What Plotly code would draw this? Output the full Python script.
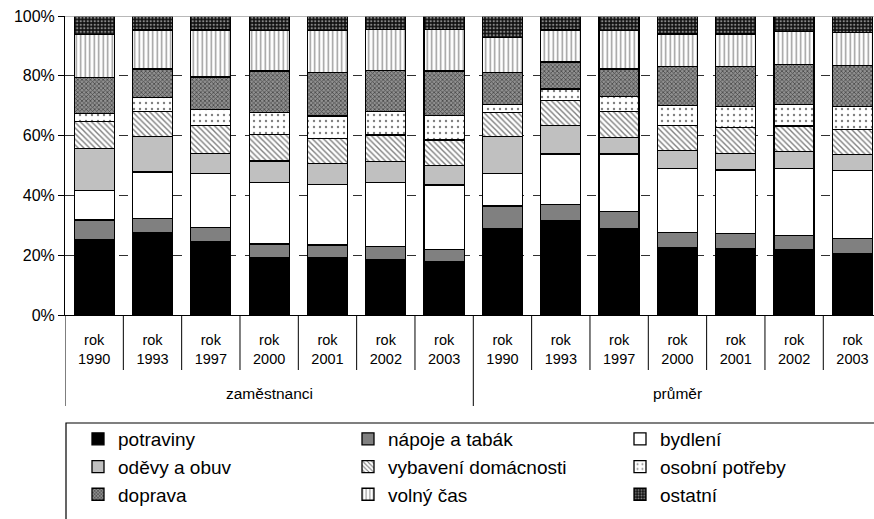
import plotly.graph_objects as go

groups = ["zaměstnanci", "průměr"]
years = ["1990", "1993", "1997", "2000", "2001", "2002", "2003"]
y_ticks = [0, 20, 40, 60, 80, 100]
y_tick_labels = ["0%", "20%", "40%", "60%", "80%", "100%"]

potraviny = [25.1, 27.5, 24.5, 19.2, 19.2, 18.6, 17.8, 29.0, 31.5, 29.0, 22.5, 22.3, 21.7, 20.6]
napoje = [6.7, 4.8, 4.7, 4.5, 4.2, 4.3, 4.2, 7.5, 5.5, 5.6, 5.1, 5.0, 4.9, 5.0]
bydleni = [9.9, 15.5, 18.2, 20.6, 20.3, 21.4, 21.5, 10.9, 16.8, 19.2, 21.5, 21.2, 22.5, 22.7]
odevy = [14.0, 11.8, 6.7, 7.2, 7.0, 7.0, 6.4, 12.2, 9.6, 5.6, 5.9, 5.6, 5.7, 5.4]
vybaveni = [9.0, 8.4, 9.2, 8.9, 8.4, 8.9, 8.6, 8.1, 8.3, 8.6, 8.4, 8.6, 8.4, 8.4]
osobni = [2.7, 4.7, 5.5, 7.3, 7.5, 7.8, 8.2, 2.6, 3.9, 5.0, 6.6, 7.0, 7.3, 7.6]
doprava = [12.0, 9.6, 10.8, 13.9, 14.4, 13.7, 14.9, 10.9, 9.0, 9.3, 13.1, 13.4, 13.3, 13.8]
volny_cas = [14.4, 13.0, 15.7, 13.5, 14.1, 13.8, 13.9, 11.6, 10.7, 12.8, 10.9, 10.9, 11.0, 11.1]
ostatni = [6.2, 4.7, 4.7, 4.9, 4.9, 4.5, 4.5, 7.2, 4.7, 4.9, 6.0, 6.0, 5.2, 5.4]

series_names = ["potraviny", "nápoje a tabák", "bydlení", "oděvy a obuv",
                "vybavení domácnosti", "osobní potřeby", "doprava", "volný čas", "ostatní"]
series_values = [potraviny, napoje, bydleni, odevy, vybaveni, osobni, doprava, volny_cas, ostatni]

FONT = "Liberation Sans, Arial, sans-serif"

styles = [
    dict(color="#000000"),
    dict(color="#808080"),
    dict(color="#ffffff"),
    dict(color="#c0c0c0"),
    dict(color="#ffffff", pattern=dict(shape="\\", fgcolor="#000000", bgcolor="#ffffff", size=4, solidity=0.35)),
    dict(color="#ffffff", pattern=dict(shape=".", fgcolor="#000000", bgcolor="#ffffff", size=6, solidity=0.12)),
    dict(color="#808080", pattern=dict(shape="x", fgcolor="#000000", bgcolor="#909090", size=3, solidity=0.45)),
    dict(color="#ffffff", pattern=dict(shape="|", fgcolor="#303030", bgcolor="#ffffff", size=4.5, solidity=0.32)),
    dict(color="#202020", pattern=dict(shape=".", fgcolor="#ffffff", bgcolor="#101010", size=3.5, solidity=0.35)),
]

n_years = len(years)
xpos = [g * n_years + j for g in range(len(groups)) for j in range(n_years)]
ticktext = ["rok<br>" + y for _ in groups for y in years]

legend_of = ["legend", "legend2", "legend3"]

fig = go.Figure()
for i, (name, vals) in enumerate(zip(series_names, series_values)):
    st = styles[i]
    marker = dict(color=st["color"], line=dict(color="#000000", width=1.3))
    if "pattern" in st:
        marker["pattern"] = st["pattern"]
    fig.add_trace(go.Bar(
        x=xpos, y=vals, name=name, marker=marker,
        legend=legend_of[i % 3],
    ))

W, H = 874, 519
L, R, T, B = 65, 0, 16, 204
pw = W - L - R
ph = H - T - B
unit = 58.33
xmax = -0.5 + pw / unit

def py(p):
    return (H - B - p) / ph

def px(p):
    return (p - L) / pw

shapes = []
# short separators between categories
for k in range(len(xpos) - 1):
    if (k + 1) % n_years == 0:
        continue
    shapes.append(dict(type="line", xref="x", yref="paper", x0=k + 0.5, x1=k + 0.5,
                       y0=0, y1=py(370), line=dict(color="#000000", width=1)))
# group dividers
for g in range(len(groups) + 1):
    xb = g * n_years - 0.5
    shapes.append(dict(type="line", xref="x", yref="paper", x0=xb, x1=xb,
                       y0=0, y1=py(406), line=dict(color="#000000", width=1)))
# top 100% line
shapes.append(dict(type="line", xref="paper", yref="y", x0=0, x1=1, y0=100, y1=100,
                   line=dict(color="#a0a0a0", width=1.5), layer="above"))
# legend box
shapes.append(dict(type="rect", xref="paper", yref="paper", x0=px(66), x1=px(900),
                   y0=py(423), y1=py(560), line=dict(color="#000000", width=1.2)))

annotations = []
for g, gname in enumerate(groups):
    center = g * n_years + (n_years - 1) / 2
    annotations.append(dict(x=center, y=py(393), xref="x", yref="paper", text=gname,
                            showarrow=False, font=dict(size=15.5, family=FONT, color="#000000"),
                            xanchor="center", yanchor="middle"))

leg_common = dict(orientation="v", traceorder="normal", bgcolor="rgba(0,0,0,0)",
                  borderwidth=0, font=dict(size=19, family=FONT, color="#000000"),
                  itemwidth=30, yanchor="top", xanchor="left", y=py(420))

fig.update_layout(
    width=W, height=H,
    margin=dict(l=L, r=R, t=T, b=B, autoexpand=False),
    barmode="stack", bargap=0.314,
    plot_bgcolor="#ffffff", paper_bgcolor="#ffffff",
    font=dict(family=FONT, color="#000000"),
    showlegend=True,
    legend=dict(x=px(78), **leg_common),
    legend2=dict(x=px(348), **leg_common),
    legend3=dict(x=px(620), **leg_common),
    shapes=shapes, annotations=annotations,
    xaxis=dict(range=[-0.5, xmax], tickvals=xpos, ticktext=ticktext, ticks="",
               showline=True, linecolor="#000000", linewidth=1, showgrid=False,
               zeroline=False, tickfont=dict(size=14.5, family=FONT, color="#000000"),
               ticklabelstandoff=12, automargin=False, fixedrange=True),
    yaxis=dict(range=[0, 100], tickvals=y_ticks, ticktext=y_tick_labels,
               ticks="outside", ticklen=6, tickcolor="#000000", showline=True,
               linecolor="#000000", linewidth=1, showgrid=True, gridcolor="#303030",
               griddash="dash", gridwidth=1, zeroline=False,
               tickfont=dict(size=16, family=FONT, color="#000000"), automargin=False),
)

fig.write_html("out.html", config={"displayModeBar": False},
               post_script="document.body.style.margin='0px';document.body.style.padding='0px';")
